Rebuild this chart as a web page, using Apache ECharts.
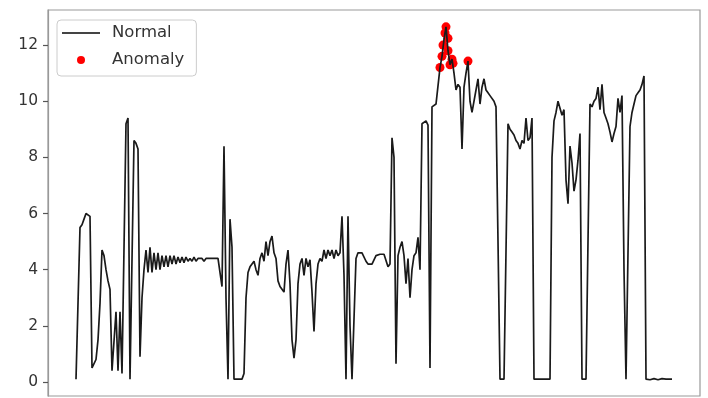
<!DOCTYPE html>
<html><head><meta charset="utf-8">
<script src="https://cdn.jsdelivr.net/npm/echarts@6/dist/echarts.min.js"></script>
<style>html,body{margin:0;padding:0;background:#fff}#c{width:708px;height:398px}</style>
</head><body><div id="c"></div>
<script>
// Series values: one sample per time step
const values = [
  0.1, 0.1, 5.5, 5.6, 5.8, 6.0, 6.0, 5.9, 0.5, 0.5,
  0.8, 1.5, 2.8, 4.7, 4.5, 4.0, 3.6, 3.3, 0.4, 0.4,
  2.5, 0.4, 2.5, 0.3, 0.3, 9.2, 9.4, 0.1, 0.1, 8.6,
  8.5, 8.3, 0.9, 3.0, 4.0, 4.7, 3.9, 4.8, 3.9, 4.6,
  4.0, 4.6, 4.0, 4.5, 4.1, 4.5, 4.1, 4.5, 4.2, 4.5,
  4.2, 4.45, 4.25, 4.45, 4.25, 4.45, 4.3, 4.4, 4.3, 4.45,
  4.3, 4.4, 4.35, 4.4, 4.3, 4.4, 4.35, 4.4, 4.35, 4.4,
  4.35, 4.4, 4.4, 3.4, 8.4, 3.0, 0.1, 5.8, 4.8, 0.1,
  0.1, 0.1, 0.1, 0.1, 0.3, 3.0, 3.9, 4.1, 4.2, 4.3,
  4.0, 3.8, 4.4, 4.6, 4.3, 5.0, 4.5, 5.0, 5.2, 4.6,
  4.4, 3.6, 3.4, 3.3, 3.2, 4.2, 4.7, 3.5, 1.5, 0.85,
  1.5, 3.5, 4.2, 4.4, 3.8, 4.4, 4.1, 4.35, 3.2, 1.8,
  3.5, 4.2, 4.4, 4.3, 4.7, 4.4, 4.7, 4.5, 4.7, 4.4,
  4.7, 4.5, 4.6, 5.9, 3.8, 0.1, 5.9, 2.0, 0.1, 0.1,
  4.4, 4.6, 4.6, 4.6, 4.6, 4.3, 4.2, 4.2, 4.2, 4.2,
  4.5, 4.55, 4.55, 4.5, 4.55, 4.6, 4.1, 4.2, 8.7, 8.0,
  0.65, 4.5, 4.8, 5.0, 4.5, 3.5, 4.4, 3.0, 4.0, 4.5,
  4.6, 5.15, 4.0, 9.2, 9.2, 9.3, 9.15, 0.5, 9.8, 9.8,
  9.9, 9.95, 11.2, 11.6, 12.2, 12.65, 11.8, 11.3, 11.5, 11.0,
  10.4, 10.6, 10.5, 8.3, 10.5, 11.0, 11.43, 10.0, 9.6, 9.6,
  10.4, 10.8, 9.9, 10.5, 10.8, 10.4, 10.3, 10.2, 10.2, 10.0,
  9.8, 5.0, 0.1, 0.1, 0.1, 0.1, 9.2, 9.0, 8.9, 8.8,
  8.6, 8.5, 8.3, 8.6, 8.5, 9.4, 8.6, 8.7, 9.4, 0.1,
  0.1, 0.1, 0.08, 0.1, 0.1, 0.1, 0.1, 0.1, 8.0, 9.3,
  9.6, 10.0, 10.0, 9.5, 9.7, 7.2, 6.35, 8.4, 7.8, 6.8,
  7.2, 7.9, 8.85, 0.1, 0.1, 0.1, 0.1, 9.9, 9.8, 10.0,
  10.1, 10.5, 9.7, 10.6, 9.6, 9.4, 9.2, 8.9, 8.55, 8.85,
  9.1, 10.1, 9.6, 10.2, 4.0, 0.1, 0.1, 9.1, 9.6, 9.9,
  10.2, 10.3, 10.4, 10.6, 10.9, 0.1, 0.12, 0.08, 0.1, 0.12,
  0.1, 0.08, 0.1, 0.12, 0.1, 0.1, 0.12, 0.1, 0.1
];
// Anomaly points: time step and value
const anomalyIdx = [182, 183, 183.5, 184.5, 185, 186, 186, 187, 188, 188.5, 196];
const anomalyVal = [11.2, 11.6, 12.0, 12.43, 12.65, 12.24, 11.8, 11.3, 11.5, 11.35, 11.43];
const yTicks = [0, 2, 4, 6, 8, 10, 12];
const seriesNames = ['Normal', 'Anomaly'];

const FONT = 'DejaVu Sans';
const n = values.length;
const chart = echarts.init(document.getElementById('c'), null, {renderer: 'canvas'});
chart.setOption({
  animation: false,
  backgroundColor: '#fff',
  grid: {left: 48, right: 8, top: 10, bottom: 2, show: true, borderColor: '#999', borderWidth: 1.2, backgroundColor: 'transparent'},
  xAxis: {type: 'value', min: -14, max: n - 1 + 14, show: false},
  yAxis: {
    type: 'value', min: -0.5, max: 13.25,
    axisLine: {show: true, onZero: false, lineStyle: {color: '#999', width: 1.2}},
    splitLine: {show: false},
    axisTick: {show: true, inside: false, length: 5, customValues: yTicks, lineStyle: {color: '#555', width: 1.2}},
    axisLabel: {customValues: yTicks, margin: 10, fontFamily: FONT, fontSize: 15.5, color: '#333'}
  },
  legend: {
    orient: 'vertical', left: 57, top: 20,
    itemWidth: 38, itemHeight: 8, itemGap: 7,
    padding: [3, 12, 6, 5],
    borderColor: '#ccc', borderWidth: 1, borderRadius: 4, backgroundColor: '#fff',
    textStyle: {fontFamily: FONT, fontSize: 16.5, color: '#333', lineHeight: 20, padding: [0, 0, 0, 7]},
    data: [
      {name: seriesNames[0], icon: 'path://M0,0L38,0L38,2.2L0,2.2Z', itemStyle: {color: '#444'}},
      {name: seriesNames[1], icon: 'circle'}
    ]
  },
  series: [
    {
      name: seriesNames[0], type: 'line', symbol: 'none', z: 3,
      data: values.map((v, i) => [i, v]),
      lineStyle: {color: '#1a1a1a', width: 1.7},
      itemStyle: {color: '#1a1a1a'}
    },
    {
      name: seriesNames[1], type: 'scatter', z: 2, symbolSize: 9,
      data: anomalyIdx.map((t, i) => [t, anomalyVal[i]]),
      itemStyle: {color: '#ff0000', opacity: 1}
    }
  ]
});
</script>
</body></html>
